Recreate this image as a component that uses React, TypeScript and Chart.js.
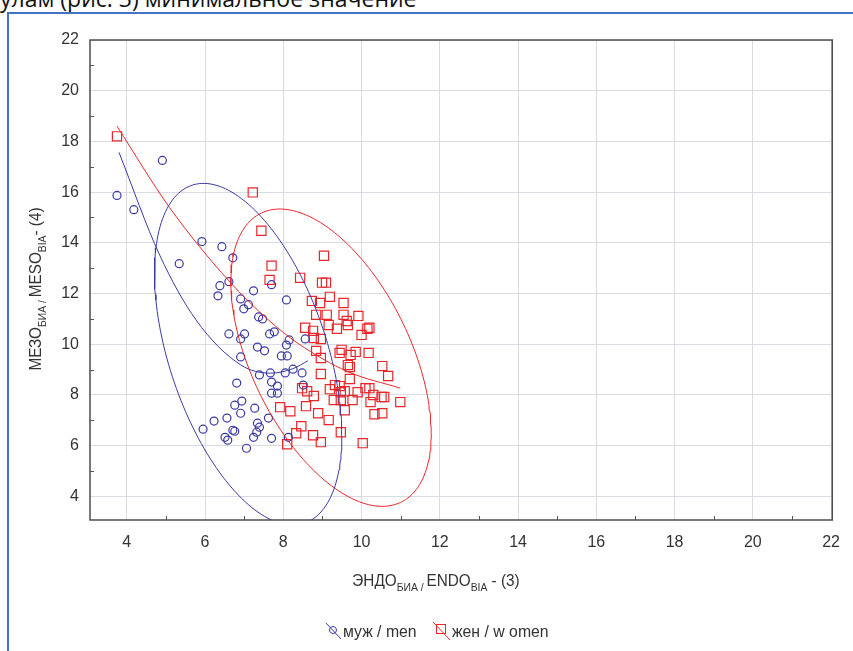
import React, { useEffect, useRef } from "react";
import { Chart, registerables } from "chart.js";

Chart.register(...registerables);

// ---- data ----
const menX = [3.75,4.18,4.91,5.34,5.92,6.43,6.71,6.61,6.38,6.33,6.91,7.24,6.99,7.11,7.37,7.47,8.08,7.70,6.61,7.01,6.91,7.65,7.77,7.34,7.52,6.91,8.15,8.08,8.56,7.95,8.10,6.81,7.39,7.67,8.05,8.25,7.70,7.85,7.70,7.85,8.51,8.48,6.76,6.94,6.91,7.27,6.56,6.23,5.95,6.71,6.76,6.51,6.58,7.34,7.39,7.32,7.24,7.62,7.70,7.06,8.13];
const menY = [15.87,15.31,17.25,13.18,14.05,13.85,13.41,12.47,12.31,11.91,11.79,12.11,11.40,11.56,11.08,11.00,11.75,12.35,10.41,10.41,10.21,10.41,10.49,9.89,9.74,9.50,10.17,9.97,10.21,9.54,9.54,8.47,8.79,8.87,8.87,9.02,8.51,8.35,8.07,8.07,8.39,8.87,7.60,7.76,7.28,7.48,7.09,6.97,6.65,6.61,6.57,6.33,6.22,6.89,6.73,6.53,6.33,7.09,6.29,5.90,6.33];
const womenX = [3.75,7.22,7.44,7.70,7.65,8.43,9.04,8.99,9.09,8.73,8.94,9.19,9.54,8.84,9.11,9.54,9.92,9.16,9.37,9.62,9.65,10.00,10.15,10.20,8.56,8.76,8.78,8.96,8.84,8.96,9.44,9.49,9.72,9.85,10.18,9.65,9.70,10.53,10.68,8.96,9.70,9.32,9.44,9.19,9.47,9.57,8.48,8.61,8.78,9.29,9.47,9.77,9.90,10.10,10.20,10.23,10.30,10.51,10.58,10.99,9.57,8.89,9.16,10.33,10.53,7.92,8.18,8.58,8.46,8.33,9.47,8.76,8.96,10.03,8.10];
const womenY = [18.20,15.99,14.48,13.10,12.54,12.62,13.49,12.43,12.43,11.71,11.63,11.87,11.63,11.16,11.16,11.16,11.12,10.76,10.61,10.92,10.76,10.37,10.61,10.65,10.65,10.53,10.25,10.21,9.74,9.46,9.66,9.78,9.58,9.70,9.66,9.18,9.10,9.14,8.75,8.83,8.63,8.39,8.35,8.23,8.11,8.15,8.27,8.15,7.96,7.80,7.80,7.80,8.11,8.27,8.27,7.72,8.00,7.92,7.92,7.72,7.40,7.28,7.01,7.24,7.28,7.52,7.36,7.56,6.77,6.49,6.53,6.41,6.14,6.10,6.06];

// fitted curves
const menFitX = [3.80, 4.84, 5.77, 6.91, 7.67, 8.25, 8.63];
const menFitY = [17.57, 13.52, 10.96, 9.19, 8.86, 9.04, 9.35];
const womenFitX = [3.75, 5.09, 6.61, 7.62, 8.38, 9.65, 10.99];
const womenFitY = [18.60, 15.40, 12.50, 10.96, 10.03, 8.92, 8.27];

const xTicks = [4, 6, 8, 10, 12, 14, 16, 18, 20, 22];
const yTicks = [4, 6, 8, 10, 12, 14, 16, 18, 20, 22];
const xMinor = [5, 7, 9, 11, 13, 15, 17, 19, 21];
const yMinor = [5, 7, 9, 11, 13, 15, 17, 19, 21];

const menLabel = "муж / men";
const womenLabel = "жен / w omen";
const xTitleParts = ["ЭНДО", "БИА / ", "ENDO", "BIA", " - (3)"];
const yTitleParts = ["МЕЗО", "БИА / ", "MESO", "BIA", "- (4)"];

const BLUE = "#3a3aa4";
const RED = "#e8272b";
const FONT = "'Liberation Sans', Arial, sans-serif";

function pairs(xs: number[], ys: number[]) {
  return xs.map((x, i) => ({ x, y: ys[i] }));
}

// 95% ellipse computed from the group's data
function ellipse(xs: number[], ys: number[]) {
  const n = xs.length;
  const mx = xs.reduce((a, b) => a + b, 0) / n;
  const my = ys.reduce((a, b) => a + b, 0) / n;
  let sxx = 0, syy = 0, sxy = 0;
  for (let i = 0; i < n; i++) {
    sxx += (xs[i] - mx) ** 2;
    syy += (ys[i] - my) ** 2;
    sxy += (xs[i] - mx) * (ys[i] - my);
  }
  sxx /= n - 1; syy /= n - 1; sxy /= n - 1;
  const l11 = Math.sqrt(sxx);
  const l21 = sxy / l11;
  const l22 = Math.sqrt(Math.max(syy - l21 * l21, 0));
  const m = n - 2;
  const f = (m / 2) * (Math.pow(0.05, -2 / m) - 1); // F(0.95; 2, n-2)
  const k = Math.sqrt(((2 * (n - 1)) / (n - 2)) * f);
  const pts: { x: number; y: number }[] = [];
  for (let i = 0; i <= 180; i++) {
    const t = (i / 180) * Math.PI * 2;
    const u = Math.cos(t), v = Math.sin(t);
    pts.push({ x: mx + k * l11 * u, y: my + k * (l21 * u + l22 * v) });
  }
  return pts;
}

function drawParts(ctx: CanvasRenderingContext2D, parts: string[], size: number, subSize: number) {
  let x = 0;
  parts.forEach((p, i) => {
    const sub = i % 2 === 1;
    ctx.font = `${sub ? subSize : size}px ${FONT}`;
    ctx.fillText(p, x, sub ? size * 0.28 : 0);
    x += ctx.measureText(p).width;
  });
  return x;
}
function measureParts(ctx: CanvasRenderingContext2D, parts: string[], size: number, subSize: number) {
  let x = 0;
  parts.forEach((p, i) => {
    const sub = i % 2 === 1;
    ctx.font = `${sub ? subSize : size}px ${FONT}`;
    x += ctx.measureText(p).width;
  });
  return x;
}

const decorPlugin = {
  id: "decor",
  afterDraw(chart: any) {
    const ctx: CanvasRenderingContext2D = chart.ctx;
    const { left, right, top, bottom } = chart.chartArea;
    const xs = chart.scales.x, ys = chart.scales.y;
    ctx.save();
    // minor ticks
    ctx.strokeStyle = "#555";
    ctx.lineWidth = 1;
    ctx.beginPath();
    yMinor.forEach((v) => {
      const y = Math.round(ys.getPixelForValue(v)) + 0.5;
      ctx.moveTo(left, y); ctx.lineTo(left + 4, y);
    });
    xMinor.forEach((v) => {
      const x = Math.round(xs.getPixelForValue(v)) + 0.5;
      ctx.moveTo(x, bottom); ctx.lineTo(x, bottom - 4);
    });
    ctx.stroke();
    // frame
    ctx.strokeStyle = "#4d4d4d";
    ctx.lineWidth = 1.5;
    ctx.strokeRect(left, top, right - left, bottom - top);

    // axis titles
    ctx.fillStyle = "#333";
    ctx.textBaseline = "alphabetic";
    ctx.textAlign = "left";
    const size = 17, subSize = 11.5, squeeze = 0.9;
    const wX = measureParts(ctx, xTitleParts, size, subSize) * squeeze;
    ctx.save();
    ctx.translate(436 - wX / 2, 586);
    ctx.scale(squeeze, 1);
    drawParts(ctx, xTitleParts, size, subSize);
    ctx.restore();

    const wY = measureParts(ctx, yTitleParts, size, subSize) * squeeze;
    ctx.save();
    ctx.translate(41, 289 + wY / 2);
    ctx.rotate(-Math.PI / 2);
    ctx.scale(squeeze, 1);
    drawParts(ctx, yTitleParts, size, subSize);
    ctx.restore();

    // legend
    const ly = 631;
    ctx.lineWidth = 1;
    ctx.strokeStyle = BLUE;
    ctx.beginPath();
    ctx.moveTo(326, ly - 8); ctx.lineTo(341, ly + 8);
    ctx.stroke();
    ctx.beginPath();
    ctx.arc(333, ly - 1, 3.5, 0, Math.PI * 2);
    ctx.stroke();
    ctx.save();
    ctx.translate(343, ly + 6);
    ctx.scale(0.93, 1);
    ctx.font = `17px ${FONT}`;
    ctx.fillStyle = "#333";
    ctx.fillText(menLabel, 0, 0);
    ctx.restore();

    ctx.strokeStyle = RED;
    ctx.beginPath();
    ctx.moveTo(433, ly - 9); ctx.lineTo(450, ly + 9);
    ctx.stroke();
    ctx.strokeRect(436.5, ly - 6.5, 9, 9);
    ctx.save();
    ctx.translate(452, ly + 6);
    ctx.scale(0.93, 1);
    ctx.font = `17px ${FONT}`;
    ctx.fillStyle = "#333";
    ctx.fillText(womenLabel, 0, 0);
    ctx.restore();

    ctx.restore();
  },
};

export default function App() {
  const ref = useRef<HTMLCanvasElement | null>(null);
  useEffect(() => {
    if (!ref.current) return;
    const lineDs = (label: string, data: any, color: string, mono: boolean) => ({
      label,
      data,
      showLine: true,
      borderColor: color,
      borderWidth: 1,
      pointRadius: 0,
      tension: mono ? 0.4 : 0,
      cubicInterpolationMode: mono ? "monotone" : "default",
    });
    const chart = new Chart(ref.current, {
      type: "scatter",
      data: {
        datasets: [
          lineDs("men ellipse", ellipse(menX, menY), BLUE, false),
          lineDs("women ellipse", ellipse(womenX, womenY), RED, false),
          lineDs("men fit", pairs(menFitX, menFitY), BLUE, true),
          lineDs("women fit", pairs(womenFitX, womenFitY), RED, true),
          {
            label: menLabel,
            data: pairs(menX, menY),
            pointStyle: "circle",
            pointRadius: 4,
            borderColor: BLUE,
            backgroundColor: "rgba(255,255,255,0)",
            borderWidth: 1.2,
          },
          {
            label: womenLabel,
            data: pairs(womenX, womenY),
            pointStyle: "rect",
            pointRadius: 6.5,
            borderColor: RED,
            backgroundColor: "rgba(255,255,255,0)",
            borderWidth: 1.2,
          },
        ] as any,
      },
      options: {
        animation: false,
        responsive: true,
        maintainAspectRatio: false,
        layout: { padding: { top: 40, right: 13, bottom: 0, left: 0 } },
        plugins: { legend: { display: false }, tooltip: { enabled: false } },
        scales: {
          x: {
            type: "linear",
            min: 3.06,
            max: 22.03,
            afterBuildTicks: (s: any) => { s.ticks = xTicks.map((v) => ({ value: v })); },
            afterFit: (s: any) => { s.height = 131; },
            grid: { color: "#d9dbe4", lineWidth: 1, drawTicks: false },
            border: { display: false },
            ticks: {
              padding: 13,
              color: "#333",
              font: { family: FONT, size: 16 },
              callback: (v: any) => String(v),
            },
          },
          y: {
            type: "linear",
            min: 3.07,
            max: 22,
            afterBuildTicks: (s: any) => { s.ticks = yTicks.map((v) => ({ value: v })); },
            afterFit: (s: any) => { s.width = 90; },
            grid: { color: "#d9dbe4", lineWidth: 1, drawTicks: false },
            border: { display: false },
            ticks: {
              padding: 11,
              color: "#333",
              font: { family: FONT, size: 16 },
              callback: (v: any) => String(v),
            },
          },
        },
      },
      plugins: [decorPlugin],
    });
    return () => chart.destroy();
  }, []);

  return (
    <div style={{ position: "fixed", left: 0, top: 0, width: 853, height: 651, background: "#fff", overflow: "hidden" }}>
      <div
        style={{
          position: "absolute",
          left: 0,
          top: -18,
          fontFamily: "'Open Sans', sans-serif",
          fontSize: 23,
          color: "#111",
          whiteSpace: "nowrap",
        }}
      >
        улам (рис. 3) минимальное значение
      </div>
      <div
        style={{
          position: "absolute",
          left: 7,
          top: 12,
          width: 860,
          height: 660,
          borderLeft: "2px solid #4472c4",
          borderTop: "2px solid #4472c4",
        }}
      />
      <div style={{ position: "absolute", left: 0, top: 0, width: 853, height: 651 }}>
        <canvas ref={ref} />
      </div>
    </div>
  );
}
